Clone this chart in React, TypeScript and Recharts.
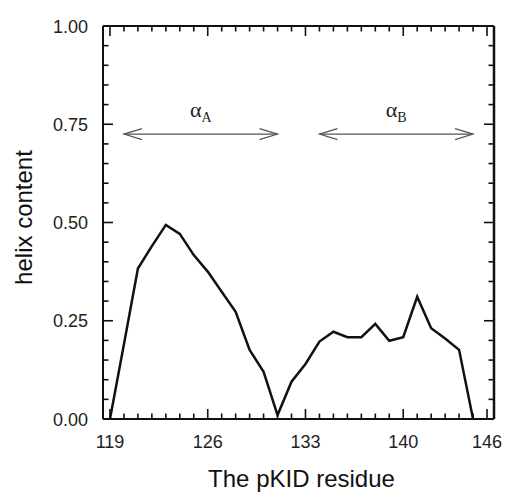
import React from "react";
import {
  LineChart,
  Line,
  XAxis,
  YAxis,
  ReferenceLine,
  Label,
} from "recharts";

const residues = [
  119, 120, 121, 122, 123, 124, 125, 126, 127, 128, 129, 130, 131, 132, 133,
  134, 135, 136, 137, 138, 139, 140, 141, 142, 143, 144, 145,
];
const helixContent = [
  0, 0.19, 0.383, 0.44, 0.494, 0.471, 0.417, 0.375, 0.324, 0.273, 0.176, 0.12,
  0.01, 0.095, 0.14, 0.197, 0.222, 0.208, 0.208, 0.242, 0.199, 0.208, 0.311,
  0.231, 0.205, 0.176, 0,
];

const xTicks = [
  119, 120, 121, 122, 123, 124, 125, 126, 127, 128, 129, 130, 131, 132, 133,
  134, 135, 136, 137, 138, 139, 140, 141, 142, 143, 144, 145, 146,
];
const xMajorTicks = [119, 126, 133, 140, 146];
const yTicks = [
  0, 0.05, 0.1, 0.15, 0.2, 0.25, 0.3, 0.35, 0.4, 0.45, 0.5, 0.55, 0.6, 0.65,
  0.7, 0.75, 0.8, 0.85, 0.9, 0.95, 1,
];
const yMajorTicks = [0, 0.25, 0.5, 0.75, 1];

// helix regions marked with double arrows
const helixNames = ["A", "B"];
const helixStart = [120, 134];
const helixEnd = [131, 145];
const helixLevel = 0.725;

const data = residues.map((r, i) => ({ residue: r, helix: helixContent[i] }));

const SANS = "'Liberation Sans', Arial, Helvetica, sans-serif";
const SERIF = "'Liberation Serif', 'Times New Roman', serif";
const INK = "#111";
// recharts hands the tick renderer a point tickSize + tickMargin away from the axis line
const TICK_SIZE = 6;
const TICK_MARGIN = 2;
const OFF = TICK_SIZE + TICK_MARGIN;

const isMajor = (list: number[], v: number) =>
  list.some((m) => Math.abs(m - v) < 1e-6);

const makeTick =
  (side: "left" | "right" | "top" | "bottom", majors: number[], fmt?: (v: number) => string) =>
  (props: any) => {
    const { payload } = props;
    let { x, y } = props;
    if (side === "left") x += OFF;
    else if (side === "right") x -= OFF;
    else if (side === "bottom") y -= OFF;
    else y += OFF;
    const v = payload.value;
    const major = isMajor(majors, v);
    const len = major ? 10 : 5.5;
    let line;
    if (side === "left") line = <line x1={x} x2={x + len} y1={y} y2={y} />;
    else if (side === "right") line = <line x1={x} x2={x - len} y1={y} y2={y} />;
    else if (side === "bottom") line = <line x1={x} x2={x} y1={y} y2={y - len} />;
    else line = <line x1={x} x2={x} y1={y} y2={y + len} />;
    let label = null;
    if (fmt && major) {
      if (side === "left")
        label = (
          <text x={x - 15} y={y + 6.5} textAnchor="end" fontSize={18} fontFamily={SANS} fill="#222" stroke="none">
            {fmt(v)}
          </text>
        );
      else
        label = (
          <text x={x} y={y + 28.5} textAnchor="middle" fontSize={18} fontFamily={SANS} fill="#222" stroke="none">
            {fmt(v)}
          </text>
        );
    }
    return (
      <g stroke={INK} strokeWidth={1.6}>
        {line}
        {label}
      </g>
    );
  };

const HelixArrow = (name: string) => (props: any) => {
  const { x1, y1, x2, y2 } = props;
  const mid = (x1 + x2) / 2;
  return (
    <g>
      <g stroke="#555" strokeWidth={1.2} fill="none">
        <line x1={x1} y1={y1} x2={x2} y2={y2} />
        <polyline points={`${x1 + 18},${y1 - 5.5} ${x1},${y1} ${x1 + 18},${y1 + 5.5}`} />
        <polyline points={`${x2 - 18},${y2 - 5.5} ${x2},${y2} ${x2 - 18},${y2 + 5.5}`} />
      </g>
      <text x={mid} y={y1 - 17} textAnchor="middle" fontFamily={SERIF} fontSize={22} fill="#222">
        α
        <tspan dy={5} fontSize={14}>
          {name}
        </tspan>
      </text>
    </g>
  );
};

const YTitle = (props: any) => {
  const vb = props.viewBox;
  const cx = vb.x + 32;
  const cy = vb.y + vb.height / 2 - 5;
  return (
    <text
      x={cx}
      y={cy}
      transform={`rotate(-90, ${cx}, ${cy})`}
      textAnchor="middle"
      fontSize={24}
      fontFamily={SANS}
      fill="#111"
    >
      helix content
    </text>
  );
};

const XTitle = (props: any) => {
  const vb = props.viewBox;
  return (
    <text
      x={vb.x + vb.width / 2 + 3}
      y={vb.y + 68}
      textAnchor="middle"
      fontSize={24}
      fontFamily={SANS}
      fill="#111"
    >
      The pKID residue
    </text>
  );
};

const axisLine = { stroke: INK, strokeWidth: 2 };

export default function App() {
  return (
    <div style={{ position: "absolute", left: 0, top: 0, background: "#fff" }}>
      <LineChart
        width={510}
        height={492}
        data={data}
        margin={{ top: 25, right: 15, left: 0, bottom: 0 }}
      >
        <XAxis
          dataKey="residue"
          type="number"
          domain={[118.5, 146.5]}
          ticks={xTicks}
          interval={0}
          allowDataOverflow
          height={73}
          tickSize={TICK_SIZE}
          tickMargin={TICK_MARGIN}
          tickLine={false}
          axisLine={axisLine}
          tick={makeTick("bottom", xMajorTicks, (v) => String(v))}
        >
          <Label content={XTitle} />
        </XAxis>
        <XAxis
          xAxisId="top"
          orientation="top"
          dataKey="residue"
          type="number"
          domain={[118.5, 146.5]}
          ticks={xTicks}
          interval={0}
          allowDataOverflow
          height={1}
          tickSize={TICK_SIZE}
          tickMargin={TICK_MARGIN}
          tickLine={false}
          axisLine={axisLine}
          tick={makeTick("top", xMajorTicks)}
        />
        <YAxis
          type="number"
          domain={[0, 1]}
          ticks={yTicks}
          interval={0}
          allowDataOverflow
          width={103}
          tickSize={TICK_SIZE}
          tickMargin={TICK_MARGIN}
          tickLine={false}
          axisLine={axisLine}
          tick={makeTick("left", yMajorTicks, (v) => v.toFixed(2))}
        >
          <Label content={YTitle} />
        </YAxis>
        <YAxis
          yAxisId="right"
          orientation="right"
          type="number"
          domain={[0, 1]}
          ticks={yTicks}
          interval={0}
          allowDataOverflow
          width={1}
          tickSize={TICK_SIZE}
          tickMargin={TICK_MARGIN}
          tickLine={false}
          axisLine={{ stroke: INK, strokeWidth: 2.5 }}
          tick={makeTick("right", yMajorTicks)}
        />
        {helixNames.map((n, i) => (
          <ReferenceLine
            key={n}
            segment={[
              { x: helixStart[i], y: helixLevel },
              { x: helixEnd[i], y: helixLevel },
            ]}
            shape={HelixArrow(n)}
            ifOverflow="visible"
          />
        ))}
        <Line
          type="linear"
          dataKey="helix"
          stroke={INK}
          strokeWidth={2.5}
          dot={false}
          isAnimationActive={false}
        />
        <Line
          xAxisId="top"
          yAxisId="right"
          type="linear"
          dataKey="helix"
          stroke="none"
          dot={false}
          activeDot={false}
          legendType="none"
          isAnimationActive={false}
        />
      </LineChart>
    </div>
  );
}
